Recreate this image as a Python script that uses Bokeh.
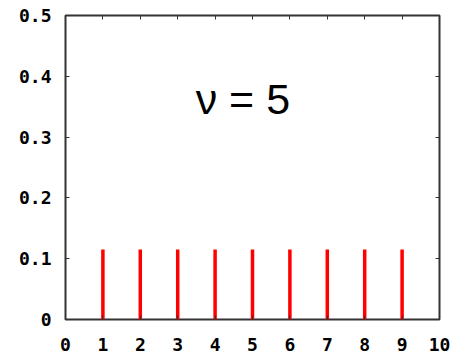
from bokeh.plotting import figure
from bokeh.models import LinearAxis, FixedTicker, Label, Range1d
from bokeh.embed import file_html
from bokeh.resources import INLINE

# data
k_values = [1, 2, 3, 4, 5, 6, 7, 8, 9]
probabilities = [0.115, 0.115, 0.115, 0.115, 0.115, 0.115, 0.115, 0.115, 0.115]
x_ticks = [0, 1, 2, 3, 4, 5, 6, 7, 8, 9, 10]
y_ticks = [0, 0.1, 0.2, 0.3, 0.4, 0.5]
y_tick_labels = ["0", "0.1", "0.2", "0.3", "0.4", "0.5"]
annotation = "\u03bd = 5"

p = figure(width=458, height=358, output_backend="svg", toolbar_location=None,
           x_range=Range1d(0, 10), y_range=Range1d(0, 0.5),
           x_axis_location=None, y_axis_location=None,
           min_border_left=65, min_border_top=15, min_border_right=19, min_border_bottom=39)
p.grid.visible = False
p.outline_line_color = "#333333"
p.outline_line_width = 2
p.background_fill_color = "white"
p.border_fill_color = "white"

font = "DejaVu Sans Mono"

def style(ax):
    ax.axis_line_color = None
    ax.major_tick_in = 4
    ax.major_tick_out = 0
    ax.minor_tick_in = 0
    ax.minor_tick_out = 0
    ax.major_tick_line_color = "#333333"
    ax.major_tick_line_width = 1
    ax.major_label_text_font = font
    ax.major_label_text_font_style = "bold"
    ax.major_label_text_color = "black"
    ax.major_label_text_font_size = "18px"

xb = LinearAxis(ticker=FixedTicker(ticks=x_ticks),
                major_label_overrides={t: str(t) for t in x_ticks})
style(xb)
xb.major_label_standoff = 18
p.add_layout(xb, "below")

yl = LinearAxis(ticker=FixedTicker(ticks=y_ticks),
                major_label_overrides={t: s for t, s in zip(y_ticks, y_tick_labels)})
style(yl)
yl.major_label_standoff = 14
p.add_layout(yl, "left")

xt = LinearAxis(ticker=FixedTicker(ticks=x_ticks),
                major_label_overrides={t: "" for t in x_ticks})
style(xt)
xt.major_label_standoff = 0
p.add_layout(xt, "above")

yr = LinearAxis(ticker=FixedTicker(ticks=y_ticks),
                major_label_overrides={t: "" for t in y_ticks})
style(yr)
yr.major_label_standoff = 0
p.add_layout(yr, "right")

p.segment(x0=k_values, y0=[0] * len(k_values), x1=k_values, y1=probabilities,
          line_color="#ff0000", line_width=3.5)

p.add_layout(Label(x=3.48, y=0.362, text=annotation, text_font="Liberation Sans",
                   text_font_size="43px", text_color="black", text_baseline="alphabetic"))

open("out.html", "w").write(file_html(p, INLINE))
